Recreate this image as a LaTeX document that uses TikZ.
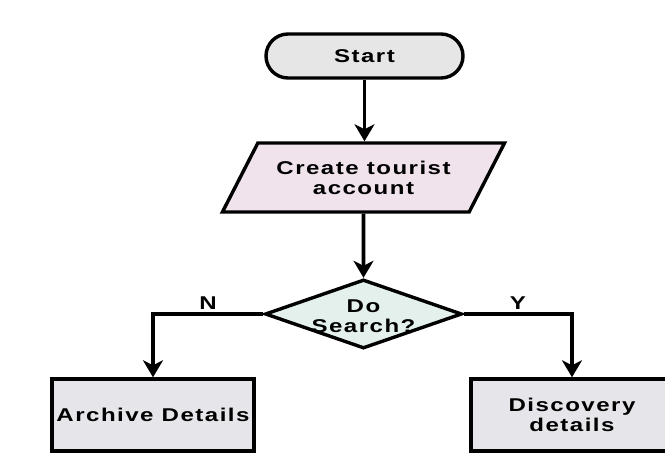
\documentclass[tikz,border=0pt]{standalone}
\usepackage{fontspec}
\setmainfont[FakeStretch=1.3,LetterSpace=8]{Liberation Sans}
\usetikzlibrary{shapes.geometric,arrows.meta}
\definecolor{startfill}{HTML}{E6E6E6}
\definecolor{parafill}{HTML}{F0E3EC}
\definecolor{diafill}{HTML}{E3F0EC}
\definecolor{boxfill}{HTML}{E6E6EA}
\begin{document}
\begin{tikzpicture}[x=1pt,y=-1pt,
  every node/.style={font=\fontsize{18.5}{20}\selectfont\bfseries, align=center},
  shp/.style={draw=black, line width=3.4pt},
  arr/.style={line width=3.6pt, -{Stealth[width=20pt,length=17pt,inset=5pt]}},
  lbl/.style={draw=none, inner sep=3pt}]
\useasboundingbox[fill=white] (0,0) rectangle (665,470);
\node[shp, fill=startfill, rounded corners=22pt, minimum width=197pt, minimum height=44pt, inner sep=0pt] (start) at (364.5,56) {Start};
\node[shp, fill=parafill, trapezium, trapezium stretches=true, trapezium left angle=49, trapezium right angle=131, minimum width=283pt, minimum height=69pt, inner sep=0pt] (para) at (363.5,177.5) {Create tourist\\account};
\node[shp, fill=diafill, diamond, minimum width=197pt, minimum height=69pt, inner sep=0pt] (dia) at (363.5,314) {};
\node (diatext) at (363.5,316) {Do\\Search?};
\node[shp, fill=boxfill, minimum width=202pt, minimum height=72pt, inner sep=0pt] (arch) at (153,415) {Archive Details};
\node[shp, fill=boxfill, minimum width=202pt, minimum height=72pt, inner sep=0pt] (disc) at (572,415) {Discovery\\details};
\draw[arr] (start.south) -- (start.south |- para.north);
\draw[arr] (para.south) -- (dia.north);
\draw[arr] (dia.west) -| node[lbl, pos=0.25, above] {N} (arch.north);
\draw[arr] (dia.east) -| node[lbl, pos=0.25, above] {Y} (disc.north);
\end{tikzpicture}
\end{document}
